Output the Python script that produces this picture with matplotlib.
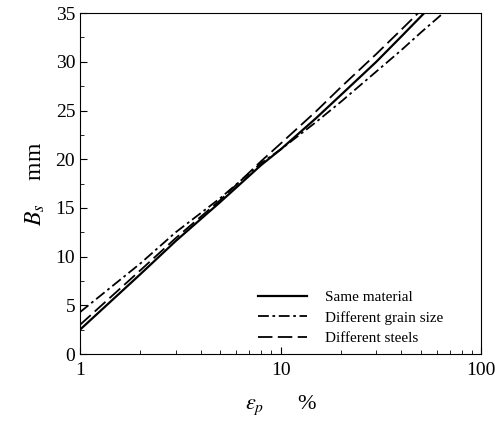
import numpy as np
from matplotlib import pyplot as plt
from matplotlib.ticker import MultipleLocator, FixedLocator, NullFormatter

plt.rcParams['font.family'] = 'Liberation Serif'
plt.rcParams['mathtext.fontset'] = 'stix'

# Same material
x_same = [1, 2, 3, 5, 8, 10, 15, 20, 30, 40, 52]
y_same = [2.5, 8.2, 11.6, 15.6, 19.4, 21.0, 24.2, 26.6, 30.0, 32.6, 35.0]

# Different grain size
x_grain = [1, 2, 3, 5, 8, 10, 15, 20, 30, 40, 50, 64.7]
y_grain = [4.3, 9.3, 12.5, 16.0, 19.6, 21.0, 23.8, 25.9, 29.0, 31.2, 33.0, 35.0]

# Different steels
x_steel = [1, 2, 3, 5, 8, 10, 15, 20, 30, 40, 48.5]
y_steel = [3.0, 8.6, 11.9, 15.8, 19.8, 21.6, 24.9, 27.4, 30.8, 33.3, 35.0]

fig = plt.figure(figsize=(4.95, 4.23), dpi=100)
ax = fig.add_axes([0.1616, 0.163, 0.8104, 0.806])

ax.plot(x_same, y_same, color='black', lw=1.6, label='Same material')
ax.plot(x_grain, y_grain, color='black', lw=1.3, dashes=(6, 2, 1.5, 2), label='Different grain size')
ax.plot(x_steel, y_steel, color='black', lw=1.3, dashes=(8, 3), label='Different steels')

ax.set_xscale('log')
ax.set_xlim(1, 100)
ax.set_ylim(0, 35)
ax.xaxis.set_major_locator(FixedLocator([1, 10, 100]))
ax.set_xticklabels(['1', '10', '100'])
ax.xaxis.set_minor_formatter(NullFormatter())
ax.yaxis.set_major_locator(MultipleLocator(5))
ax.yaxis.set_minor_locator(MultipleLocator(2.5))
ax.tick_params(which='both', direction='in', labelsize=14)
ax.tick_params(which='major', length=5)
ax.tick_params(which='minor', length=3)
ax.tick_params(axis='x', pad=6)

ax.set_xlabel(r'$\varepsilon_p$      %', fontsize=16, labelpad=10)
ax.set_ylabel(r'$B_s$    mm', fontsize=17, labelpad=6)

ax.legend(loc='lower left', frameon=False, fontsize=11, handlelength=3.2,
          bbox_to_anchor=(0.41, -0.015), labelspacing=0.45, handletextpad=1.2)

plt.savefig('out.png', dpi=100)
